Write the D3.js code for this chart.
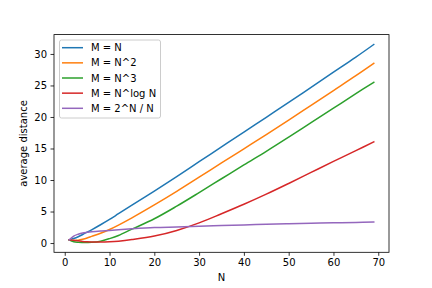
<!DOCTYPE html>
<html><head><meta charset="utf-8">
<script src="https://cdn.jsdelivr.net/npm/d3@7"></script>
<style>body{margin:0;background:#fff}svg text{font-family:"DejaVu Sans",sans-serif}</style>
</head><body><svg id="c" width="432" height="288"></svg>
<script>
const Ns = [1,2,3,4,5,6,8,10,12,15,20,25,30,35,40,45,50,55,60,65,69];
const seriesNames = ["M = N","M = N^2","M = N^3","M = N^log N","M = 2^N / N"];
const valsN   = [0.5,0.72,1.0,1.35,1.72,2.1,2.9,3.75,4.65,6.0,8.25,10.55,12.9,15.25,17.6,19.95,22.3,24.7,27.1,29.5,31.5];
const valsN2  = [0.5,0.4,0.45,0.6,0.8,1.05,1.55,2.15,2.85,4.0,6.05,8.2,10.45,12.7,14.95,17.2,19.5,21.85,24.2,26.55,28.5];
const valsN3  = [0.5,0.2,0.12,0.1,0.1,0.12,0.3,0.7,1.2,2.2,3.85,5.85,8.0,10.2,12.4,14.55,16.8,19.1,21.4,23.7,25.5];
const valsNlog= [0.5,0.45,0.35,0.25,0.2,0.17,0.15,0.2,0.3,0.55,1.1,2.0,3.2,4.65,6.15,7.75,9.45,11.2,12.95,14.65,16.05];
const vals2N  = [0.5,1.1,1.4,1.6,1.7,1.78,1.9,2.0,2.1,2.25,2.45,2.55,2.66,2.78,2.88,2.98,3.05,3.13,3.2,3.27,3.35];
const xTicks = [0,10,20,30,40,50,60,70];
const yTicks = [0,5,10,15,20,25,30];
const colors = ["#1f77b4","#ff7f0e","#2ca02c","#d62728","#9467bd"];
const allVals = [valsN,valsN2,valsN3,valsNlog,vals2N];

const L=54,R=389,T=34.6,B=252.3;
const svg=d3.select("#c");
const xmin=d3.min(Ns),xmax=d3.max(Ns),xm=(xmax-xmin)*0.05;
const ymin=d3.min(allVals.flat()),ymax=d3.max(allVals.flat()),ym=(ymax-ymin)*0.05;
const x=d3.scaleLinear().domain([xmin-xm,xmax+xm]).range([L,R]);
const y=d3.scaleLinear().domain([ymin-ym,ymax+ym]).range([B,T]);

const g=svg.append("g");
const line=d3.line().x((d,i)=>x(Ns[i])).y(d=>y(d)).curve(d3.curveCatmullRom.alpha(0.5));
allVals.forEach((v,i)=>{
  g.append("path").attr("d",line(v)).attr("fill","none").attr("stroke",colors[i]).attr("stroke-width",1.5).attr("stroke-linecap","square");
});

const xa=svg.append("g").attr("transform",`translate(0,${B})`).call(d3.axisBottom(x).tickValues(xTicks).tickSize(3.5).tickPadding(3.5).tickFormat(d3.format("d")));
const ya=svg.append("g").attr("transform",`translate(${L},0)`).call(d3.axisLeft(y).tickValues(yTicks).tickSize(3.5).tickPadding(3.5).tickFormat(d3.format("d")));
[xa,ya].forEach(a=>{a.select(".domain").remove();a.selectAll("line").attr("stroke","#000").attr("stroke-width",0.8);a.selectAll("text").attr("font-size",10).attr("fill","#000").attr("font-family","DejaVu Sans");});
svg.append("rect").attr("x",L).attr("y",T).attr("width",R-L).attr("height",B-T).attr("fill","none").attr("stroke","#000").attr("stroke-width",0.8);

svg.append("text").attr("x",(L+R)/2).attr("y",281).attr("text-anchor","middle").attr("font-size",10).text("N");
svg.append("text").attr("transform",`translate(27,${(T+B)/2}) rotate(-90)`).attr("text-anchor","middle").attr("font-size",10).text("average distance");

const lg=svg.append("g");
lg.append("rect").attr("x",59.5).attr("y",40).attr("width",101).attr("height",78).attr("rx",2).attr("fill","#fff").attr("fill-opacity",0.8).attr("stroke","#cccccc").attr("stroke-width",1);
seriesNames.forEach((n,i)=>{
  const yy=47.7+i*15.15;
  lg.append("line").attr("x1",62).attr("x2",83).attr("y1",yy).attr("y2",yy).attr("stroke",colors[i]).attr("stroke-width",1.5);
  lg.append("text").attr("x",91).attr("y",yy+3.6).attr("font-size",10).text(n);
});
</script></body></html>
